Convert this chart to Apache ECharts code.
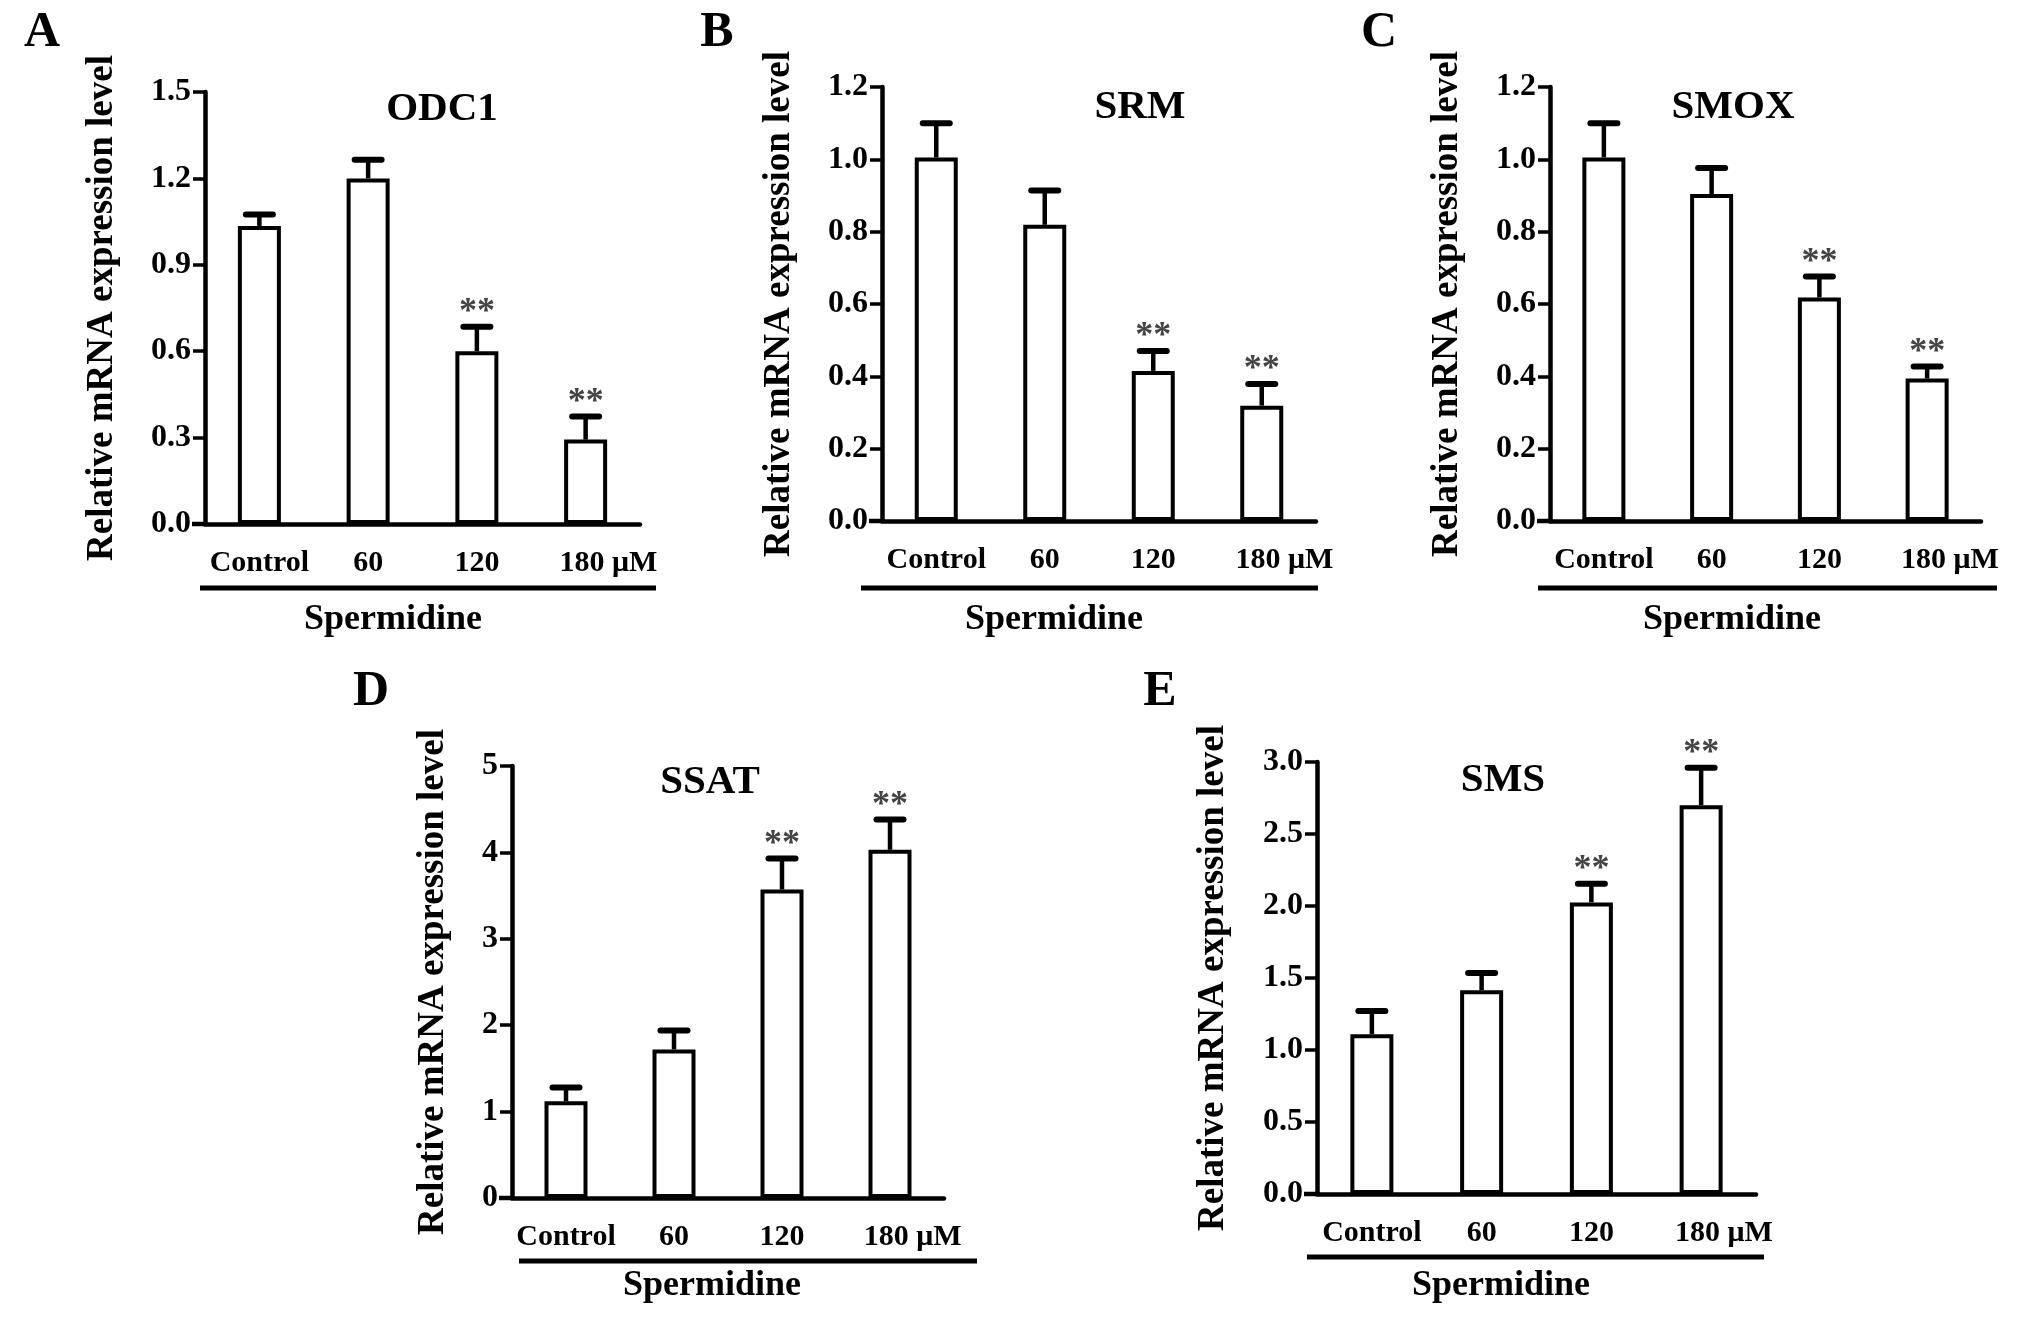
<!DOCTYPE html>
<html>
<head>
<meta charset="utf-8">
<script src="https://cdn.jsdelivr.net/npm/echarts@6/dist/echarts.min.js"></script>
<style>
html,body{margin:0;padding:0;background:#fff;}
#chart{width:2031px;height:1318px;}
</style>
</head>
<body>
<div id="chart"></div>
<script>
// ---------- data ----------
const categories = ['Control', '60', '120', '180 μM'];
const yAxisName = 'Relative mRNA expression level';
const groupLabel = 'Spermidine';

const odc1Mean = [1.035, 1.20, 0.60, 0.293];
const odc1Err  = [0.04, 0.065, 0.085, 0.08];
const odc1Sig  = ['', '', '**', '**'];

const srmMean = [1.005, 0.819, 0.415, 0.319];
const srmErr  = [0.095, 0.095, 0.055, 0.06];
const srmSig  = ['', '', '**', '**'];

const smoxMean = [1.005, 0.904, 0.618, 0.394];
const smoxErr  = [0.095, 0.072, 0.058, 0.033];
const smoxSig  = ['', '', '**', '**'];

const ssatMean = [1.12, 1.72, 3.57, 4.03];
const ssatErr  = [0.16, 0.22, 0.36, 0.35];
const ssatSig  = ['', '', '**', '**'];

const smsMean = [1.11, 1.415, 2.025, 2.70];
const smsErr  = [0.16, 0.12, 0.13, 0.26];
const smsSig  = ['', '', '**', '**'];

// ---------- layout / style ----------
const FONT = "'Liberation Serif', 'Times New Roman', serif";
const panels = [
  {letter:'A', title:'ODC1', mean:odc1Mean, err:odc1Err, sig:odc1Sig, max:1.5, interval:0.3, dec:1,
   grid:{left:205, top:92, width:435, height:432}, nameGap:84, letterPos:[42,33], titlePos:[442,109],
   underline:[200,656,588], groupPos:[393,620]},
  {letter:'B', title:'SRM', mean:srmMean, err:srmErr, sig:srmSig, max:1.2, interval:0.2, dec:1,
   grid:{left:882, top:87, width:434, height:434}, nameGap:84, letterPos:[717,33], titlePos:[1140,107],
   underline:[861,1318,588], groupPos:[1054,620]},
  {letter:'C', title:'SMOX', mean:smoxMean, err:smoxErr, sig:smoxSig, max:1.2, interval:0.2, dec:1,
   grid:{left:1550, top:87, width:431, height:434}, nameGap:84, letterPos:[1379,33], titlePos:[1733,107],
   underline:[1538,1997,588], groupPos:[1732,620]},
  {letter:'D', title:'SSAT', mean:ssatMean, err:ssatErr, sig:ssatSig, max:5, interval:1, dec:0,
   grid:{left:512, top:766, width:432, height:432}, nameGap:60, letterPos:[371,692], titlePos:[710,782],
   underline:[519,977,1261], groupPos:[712,1286]},
  {letter:'E', title:'SMS', mean:smsMean, err:smsErr, sig:smsSig, max:3, interval:0.5, dec:1,
   grid:{left:1317, top:762, width:439, height:432}, nameGap:85, letterPos:[1160,692], titlePos:[1503,780],
   underline:[1307,1764,1257], groupPos:[1501,1286]}
];

const grids = [], xAxes = [], yAxes = [], series = [], graphics = [];
const lastCat = categories[categories.length - 1];

panels.forEach((p, k) => {
  grids.push({left:p.grid.left, top:p.grid.top, width:p.grid.width, height:p.grid.height});
  xAxes.push({
    type:'category', gridIndex:k, data:categories,
    axisLine:{lineStyle:{color:'#000', width:4.5}},
    axisTick:{alignWithLabel:true, length:13, lineStyle:{color:'#000', width:3.5}},
    axisLabel:{color:'#000', fontFamily:FONT, fontWeight:'bold', fontSize:30, margin:24, interval:0,
      // the number of the last label sits on its tick, the unit hangs to the right
      formatter:v => v === lastCat ? '{pad|' + v.slice(4) + '}' + v : v,
      rich:{pad:{color:'rgba(0,0,0,0)', fontFamily:FONT, fontWeight:'bold', fontSize:30}}},
    splitLine:{show:false}
  });
  yAxes.push({
    type:'value', gridIndex:k, min:0, max:p.max, interval:p.interval,
    name:yAxisName, nameLocation:'middle', nameRotate:90, nameGap:p.nameGap,
    nameTextStyle:{color:'#000', fontFamily:FONT, fontWeight:'bold', fontSize:37},
    axisLine:{show:true, lineStyle:{color:'#000', width:4.5}},
    axisTick:{show:true, length:12, lineStyle:{color:'#000', width:3.5}},
    axisLabel:{color:'#000', fontFamily:FONT, fontWeight:'bold', fontSize:32, margin:14,
      formatter:v => Number(v).toFixed(p.dec)},
    splitLine:{show:false}
  });
  series.push({
    type:'bar', xAxisIndex:k, yAxisIndex:k, data:p.mean, barWidth:43, silent:true,
    itemStyle:{color:'#fff', borderColor:'#000', borderWidth:4}, z:2
  });
  const sig = p.sig;
  series.push({
    type:'custom', xAxisIndex:k, yAxisIndex:k, z:3, silent:true,
    data:p.mean.map((m, i) => [i, m, p.err[i]]),
    renderItem:(params, api) => {
      const i = api.value(0), m = api.value(1), e = api.value(2);
      const base = api.coord([i, m]);
      const tp = api.coord([i, m + e]);
      const half = 13.5;
      const children = [
        {type:'line', shape:{x1:base[0], y1:base[1], x2:tp[0], y2:tp[1]},
         style:{stroke:'#000', lineWidth:4.5}},
        {type:'line', shape:{x1:tp[0]-half, y1:tp[1], x2:tp[0]+half, y2:tp[1]},
         style:{stroke:'#000', lineWidth:6, lineCap:'round'}}
      ];
      const s = sig[params.dataIndex];
      if (s) {
        children.push({type:'text', x:tp[0], y:tp[1] + 4,
          style:{text:s, fill:'#444', font:'bold 36px ' + FONT, textAlign:'center', textVerticalAlign:'bottom'}});
      }
      return {type:'group', children:children};
    }
  });

  const g = p.grid;
  const axisY = g.top + g.height;
  // x-axis overhang to the left of the y axis
  graphics.push({type:'line', shape:{x1:g.left-13, y1:axisY, x2:g.left, y2:axisY},
    style:{stroke:'#000', lineWidth:4.5}, z:10});
  // panel letter
  graphics.push({type:'text', x:p.letterPos[0], y:p.letterPos[1],
    style:{text:p.letter, font:'bold 50px ' + FONT, fill:'#000', textAlign:'center', textVerticalAlign:'middle'}});
  // panel title
  graphics.push({type:'text', x:p.titlePos[0], y:p.titlePos[1],
    style:{text:p.title, font:'bold 41px ' + FONT, fill:'#000', textAlign:'center', textVerticalAlign:'middle'}});
  // underline
  graphics.push({type:'line', shape:{x1:p.underline[0], y1:p.underline[2], x2:p.underline[1], y2:p.underline[2]},
    style:{stroke:'#000', lineWidth:5}});
  // group label
  graphics.push({type:'text', x:p.groupPos[0], y:p.groupPos[1],
    style:{text:groupLabel, font:'bold 36px ' + FONT, fill:'#000', textAlign:'center', textVerticalAlign:'middle'}});
});

const chart = echarts.init(document.getElementById('chart'), null, {renderer:'canvas'});
chart.setOption({
  animation:false,
  backgroundColor:'#fff',
  grid:grids, xAxis:xAxes, yAxis:yAxes, series:series,
  graphic:{elements:graphics}
});
</script>
</body>
</html>
